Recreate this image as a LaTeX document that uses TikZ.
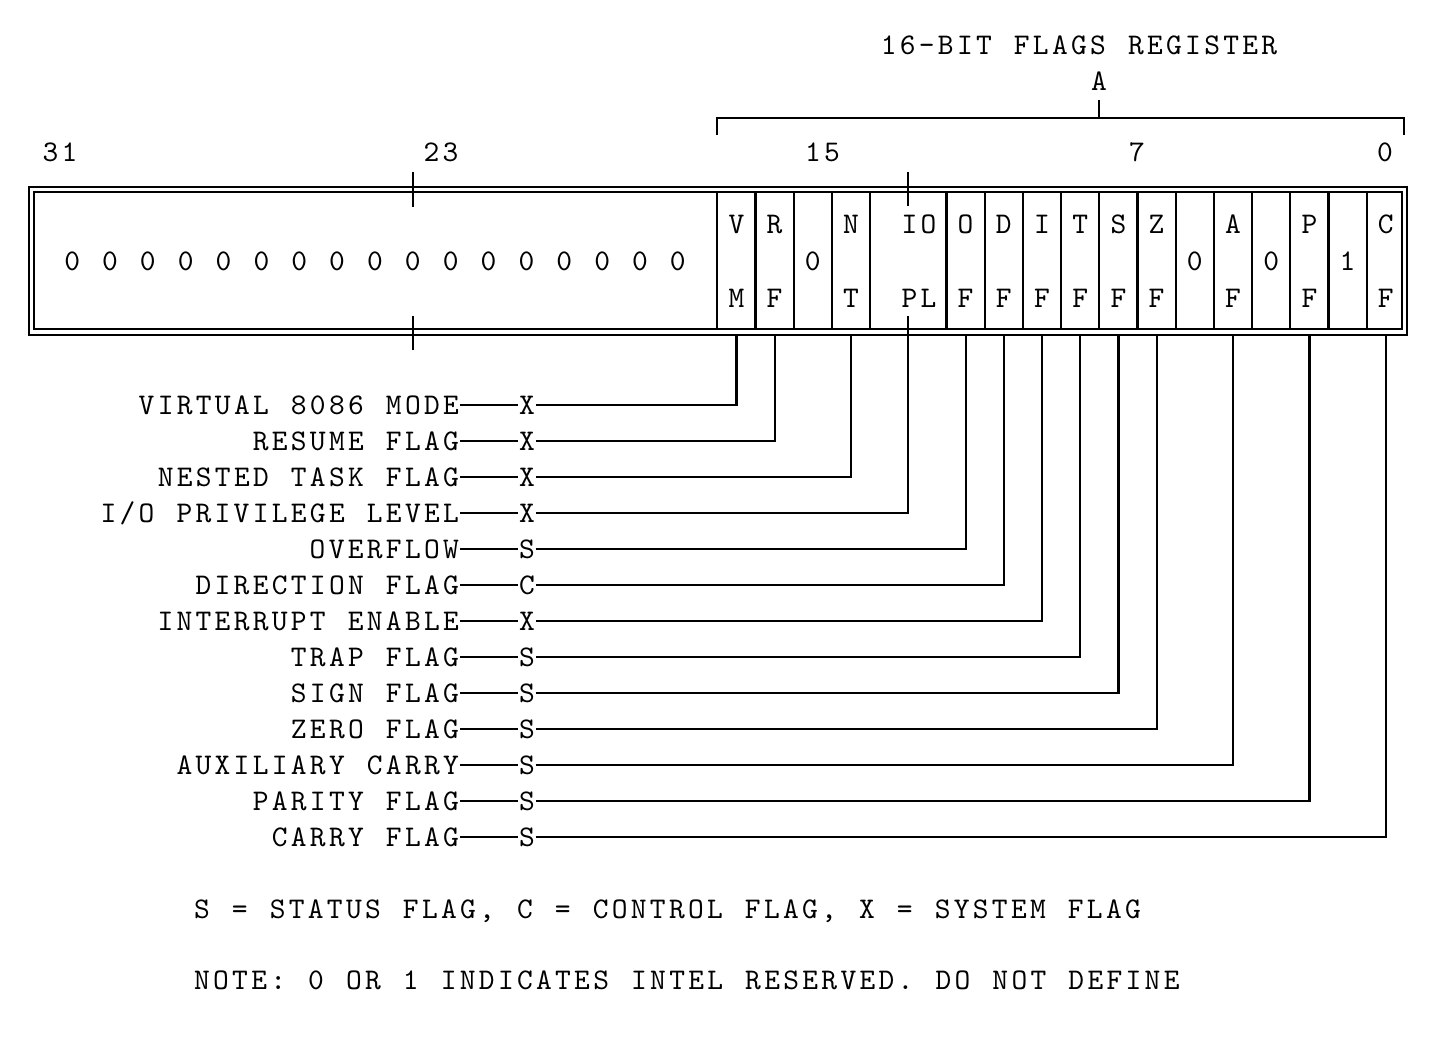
\documentclass[tikz,border=0pt]{standalone}
\usepackage{fontspec}
\newfontfamily\regfont[LetterSpace=11.03,WordSpace=1.16]{lmmono10-regular.otf}
\newfontfamily\chfont{lmmono10-regular.otf}

\begin{document}
\begin{tikzpicture}[x=5pt,y=5pt,line width=1.1pt]
\tikzstyle{every node}+=[inner sep=0pt, text height=9.17pt, text depth=0pt, font=\fontsize{15}{18}\regfont]
\tikzstyle{cls}=[font=\fontsize{15}{18}\chfont]
\useasboundingbox (0,0) rectangle (143.4,-105.1);
%header
\node (title) at (107.9,-4.57) {16-BIT FLAGS REGISTER};
\node (amark) at (109.9,-8.17) {A};
\draw [black] (71.73,-13.5) -- (71.73,-11.77) -- (140.4,-11.77) -- (140.4,-13.5);
\draw [black] (109.9,-11.77) -- (109.9,-10.0);
\node (b31) at (6.0,-15.28) {31};
\node (b23) at (44.1,-15.28) {23};
\node (b15) at (82.25,-15.28) {15};
\node (b7) at (113.7,-15.28) {7};
\node (b0) at (138.5,-15.28) {0};
%frame
\draw [black] (2.9,-18.67) rectangle (140.67,-33.48);
\draw [black] (3.43,-19.23) rectangle (140.2,-32.93);
\draw [black] (41.3,-17.17) -- (41.3,-20.73);
\draw [black] (41.3,-31.6) -- (41.3,-35.0);
\draw [black] (90.83,-17.2) -- (90.83,-20.6);
\node (zeros) at (37.5,-26.17) {0 0 0 0 0 0 0 0 0 0 0 0 0 0 0 0 0};
%cells
\draw [black] (71.73,-19.23) -- (71.73,-32.93);
\draw [black] (75.55,-19.23) -- (75.55,-32.93);
\draw [black] (79.37,-19.23) -- (79.37,-32.93);
\draw [black] (83.19,-19.23) -- (83.19,-32.93);
\draw [black] (87.01,-19.23) -- (87.01,-32.93);
\draw [black] (94.65,-19.23) -- (94.65,-32.93);
\draw [black] (98.47,-19.23) -- (98.47,-32.93);
\draw [black] (102.29,-19.23) -- (102.29,-32.93);
\draw [black] (106.11,-19.23) -- (106.11,-32.93);
\draw [black] (109.93,-19.23) -- (109.93,-32.93);
\draw [black] (113.75,-19.23) -- (113.75,-32.93);
\draw [black] (117.57,-19.23) -- (117.57,-32.93);
\draw [black] (121.39,-19.23) -- (121.39,-32.93);
\draw [black] (125.21,-19.23) -- (125.21,-32.93);
\draw [black] (129.03,-19.23) -- (129.03,-32.93);
\draw [black] (132.85,-19.23) -- (132.85,-32.93);
\draw [black] (136.67,-19.23) -- (136.67,-32.93);
\node (vm-t) at (73.64,-22.47) {V};
\node (vm-b) at (73.64,-29.8) {M};
\node (rf-t) at (77.46,-22.47) {R};
\node (rf-b) at (77.46,-29.8) {F};
\node (r15) at (81.28,-26.17) {0};
\node (nt-t) at (85.1,-22.47) {N};
\node (nt-b) at (85.1,-29.8) {T};
\node (io-t) at (91.9,-22.47) {IO};
\node (io-b) at (91.9,-29.8) {PL};
\node (of-t) at (96.56,-22.47) {O};
\node (of-b) at (96.56,-29.8) {F};
\node (df-t) at (100.38,-22.47) {D};
\node (df-b) at (100.38,-29.8) {F};
\node (if-t) at (104.2,-22.47) {I};
\node (if-b) at (104.2,-29.8) {F};
\node (tf-t) at (108.02,-22.47) {T};
\node (tf-b) at (108.02,-29.8) {F};
\node (sf-t) at (111.84,-22.47) {S};
\node (sf-b) at (111.84,-29.8) {F};
\node (zf-t) at (115.66,-22.47) {Z};
\node (zf-b) at (115.66,-29.8) {F};
\node (r5) at (119.48,-26.17) {0};
\node (af-t) at (123.3,-22.47) {A};
\node (af-b) at (123.3,-29.8) {F};
\node (r3) at (127.12,-26.17) {0};
\node (pf-t) at (130.94,-22.47) {P};
\node (pf-b) at (130.94,-29.8) {F};
\node (r1) at (134.76,-26.17) {1};
\node (cf-t) at (138.58,-22.47) {C};
\node (cf-b) at (138.58,-29.8) {F};
%drop points
\coordinate (vm-d) at (73.64,-33.48);
\coordinate (rf-d) at (77.46,-33.48);
\coordinate (nt-d) at (85.1,-33.48);
\coordinate (io-d) at (90.83,-31.6);
\coordinate (of-d) at (96.56,-33.48);
\coordinate (df-d) at (100.38,-33.48);
\coordinate (if-d) at (104.2,-33.48);
\coordinate (tf-d) at (108.02,-33.48);
\coordinate (sf-d) at (111.84,-33.48);
\coordinate (zf-d) at (115.66,-33.48);
\coordinate (af-d) at (123.3,-33.48);
\coordinate (pf-d) at (130.94,-33.48);
\coordinate (cf-d) at (138.58,-33.48);
%labels
\node [anchor=east] (vm-l) at (46.0,-40.5) {VIRTUAL 8086 MODE};
\node [anchor=east] (rf-l) at (46.0,-44.1) {RESUME FLAG};
\node [anchor=east] (nt-l) at (46.0,-47.7) {NESTED TASK FLAG};
\node [anchor=east] (io-l) at (46.0,-51.3) {I/O PRIVILEGE LEVEL};
\node [anchor=east] (of-l) at (46.0,-54.9) {OVERFLOW};
\node [anchor=east] (df-l) at (46.0,-58.5) {DIRECTION FLAG};
\node [anchor=east] (if-l) at (46.0,-62.1) {INTERRUPT ENABLE};
\node [anchor=east] (tf-l) at (46.0,-65.7) {TRAP FLAG};
\node [anchor=east] (sf-l) at (46.0,-69.3) {SIGN FLAG};
\node [anchor=east] (zf-l) at (46.0,-72.9) {ZERO FLAG};
\node [anchor=east] (af-l) at (46.0,-76.5) {AUXILIARY CARRY};
\node [anchor=east] (pf-l) at (46.0,-80.1) {PARITY FLAG};
\node [anchor=east] (cf-l) at (46.0,-83.7) {CARRY FLAG};
\node [cls] (vm-c) at (52.7,-40.5) {X};
\node [cls] (rf-c) at (52.7,-44.1) {X};
\node [cls] (nt-c) at (52.7,-47.7) {X};
\node [cls] (io-c) at (52.7,-51.3) {X};
\node [cls] (of-c) at (52.7,-54.9) {S};
\node [cls] (df-c) at (52.7,-58.5) {C};
\node [cls] (if-c) at (52.7,-62.1) {X};
\node [cls] (tf-c) at (52.7,-65.7) {S};
\node [cls] (sf-c) at (52.7,-69.3) {S};
\node [cls] (zf-c) at (52.7,-72.9) {S};
\node [cls] (af-c) at (52.7,-76.5) {S};
\node [cls] (pf-c) at (52.7,-80.1) {S};
\node [cls] (cf-c) at (52.7,-83.7) {S};
%connectors
\draw [black] (vm-l.east) -- (vm-c.west);
\draw [black] (vm-c.east) -| (vm-d);
\draw [black] (rf-l.east) -- (rf-c.west);
\draw [black] (rf-c.east) -| (rf-d);
\draw [black] (nt-l.east) -- (nt-c.west);
\draw [black] (nt-c.east) -| (nt-d);
\draw [black] (io-l.east) -- (io-c.west);
\draw [black] (io-c.east) -| (io-d);
\draw [black] (of-l.east) -- (of-c.west);
\draw [black] (of-c.east) -| (of-d);
\draw [black] (df-l.east) -- (df-c.west);
\draw [black] (df-c.east) -| (df-d);
\draw [black] (if-l.east) -- (if-c.west);
\draw [black] (if-c.east) -| (if-d);
\draw [black] (tf-l.east) -- (tf-c.west);
\draw [black] (tf-c.east) -| (tf-d);
\draw [black] (sf-l.east) -- (sf-c.west);
\draw [black] (sf-c.east) -| (sf-d);
\draw [black] (zf-l.east) -- (zf-c.west);
\draw [black] (zf-c.east) -| (zf-d);
\draw [black] (af-l.east) -- (af-c.west);
\draw [black] (af-c.east) -| (af-d);
\draw [black] (pf-l.east) -- (pf-c.west);
\draw [black] (pf-c.east) -| (pf-d);
\draw [black] (cf-l.east) -- (cf-c.west);
\draw [black] (cf-c.east) -| (cf-d);
%key
\node [anchor=west] (key) at (19.3,-90.9) {S = STATUS FLAG, C = CONTROL FLAG, X = SYSTEM FLAG};
\node [anchor=west] (note) at (19.3,-98.0) {NOTE: 0 OR 1 INDICATES INTEL RESERVED. DO NOT DEFINE};
\end{tikzpicture}
\end{document}
